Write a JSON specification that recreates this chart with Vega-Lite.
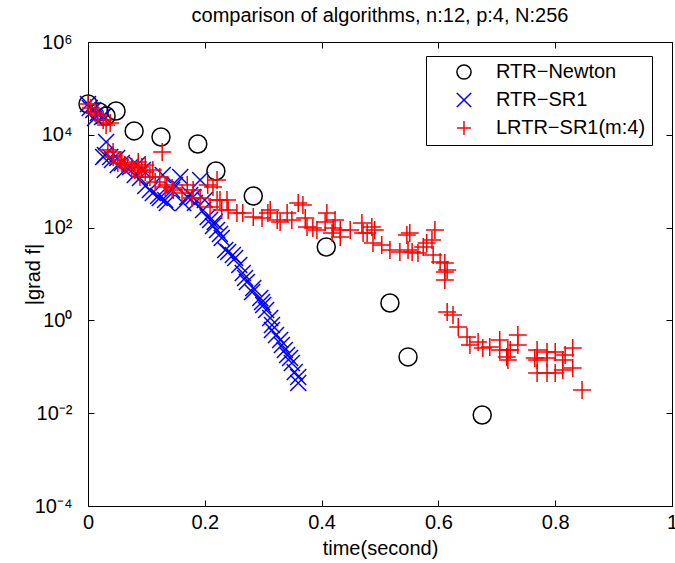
{
  "$schema": "https://vega.github.io/schema/vega-lite/v6.json",
  "width": 584,
  "height": 464,
  "autosize": {"type": "none"},
  "padding": {"left": 88, "top": 42, "right": 3, "bottom": 57},
  "background": "white",
  "title": {"text": "comparison of algorithms, n:12, p:4, N:256", "fontSize": 20, "fontWeight": "normal", "font": "Liberation Sans", "color": "black", "offset": 6, "anchor": "middle"},
  "datasets": {
    "newton": [
      {"t": 0, "g": 46100}, {"t": 0.019, "g": 31000}, {"t": 0.031, "g": 25400}, {"t": 0.048, "g": 32600},
      {"t": 0.079, "g": 12100}, {"t": 0.125, "g": 8970}, {"t": 0.188, "g": 6340}, {"t": 0.219, "g": 1660},
      {"t": 0.283, "g": 480}, {"t": 0.408, "g": 38.2}, {"t": 0.517, "g": 2.37}, {"t": 0.548, "g": 0.163},
      {"t": 0.675, "g": 0.00914}
    ],
    "sr1": [
      {"t": 0, "g": 46100}, {"t": 0.003, "g": 37800}, {"t": 0.009, "g": 34200}, {"t": 0.012, "g": 23000},
      {"t": 0.017, "g": 29500}, {"t": 0.024, "g": 24200}, {"t": 0.027, "g": 25400}, {"t": 0.031, "g": 7000},
      {"t": 0.026, "g": 3320}, {"t": 0.029, "g": 3670}, {"t": 0.038, "g": 3320}, {"t": 0.041, "g": 2860},
      {"t": 0.05, "g": 3160}, {"t": 0.051, "g": 2230}, {"t": 0.058, "g": 2470}, {"t": 0.063, "g": 1740},
      {"t": 0.072, "g": 2020}, {"t": 0.08, "g": 1360}, {"t": 0.084, "g": 2230}, {"t": 0.089, "g": 1170},
      {"t": 0.094, "g": 1740}, {"t": 0.098, "g": 788}, {"t": 0.106, "g": 646}, {"t": 0.111, "g": 557},
      {"t": 0.12, "g": 480}, {"t": 0.123, "g": 435}, {"t": 0.128, "g": 1360}, {"t": 0.132, "g": 394},
      {"t": 0.135, "g": 339}, {"t": 0.144, "g": 646}, {"t": 0.149, "g": 828}, {"t": 0.158, "g": 1230},
      {"t": 0.163, "g": 339}, {"t": 0.17, "g": 456}, {"t": 0.175, "g": 504}, {"t": 0.18, "g": 456},
      {"t": 0.183, "g": 339}, {"t": 0.192, "g": 1060}, {"t": 0.197, "g": 239}, {"t": 0.2, "g": 394},
      {"t": 0.205, "g": 169}, {"t": 0.209, "g": 146}, {"t": 0.214, "g": 108}, {"t": 0.217, "g": 132},
      {"t": 0.221, "g": 88.7}, {"t": 0.226, "g": 72.8}, {"t": 0.229, "g": 59.7}, {"t": 0.235, "g": 32.9},
      {"t": 0.24, "g": 29.8}, {"t": 0.248, "g": 25.6}, {"t": 0.252, "g": 22.1}, {"t": 0.259, "g": 15.6},
      {"t": 0.265, "g": 10.5}, {"t": 0.269, "g": 8.2}, {"t": 0.272, "g": 6.71}, {"t": 0.283, "g": 5.0},
      {"t": 0.281, "g": 4.09}, {"t": 0.295, "g": 3.04}, {"t": 0.298, "g": 2.49}, {"t": 0.3, "g": 2.15},
      {"t": 0.305, "g": 1.67}, {"t": 0.312, "g": 1.13}, {"t": 0.315, "g": 0.796}, {"t": 0.315, "g": 0.621},
      {"t": 0.322, "g": 0.484}, {"t": 0.329, "g": 0.378}, {"t": 0.332, "g": 0.295}, {"t": 0.337, "g": 0.23},
      {"t": 0.341, "g": 0.179}, {"t": 0.346, "g": 0.155}, {"t": 0.349, "g": 0.121}, {"t": 0.354, "g": 0.0773},
      {"t": 0.36, "g": 0.0603}, {"t": 0.36, "g": 0.0448}
    ],
    "lrtr": [
      {"t": 0, "g": 46100}, {"t": 0.005, "g": 37800}, {"t": 0.012, "g": 29500}, {"t": 0.017, "g": 26700},
      {"t": 0.026, "g": 20800}, {"t": 0.031, "g": 16300}, {"t": 0.038, "g": 17900}, {"t": 0.034, "g": 4700},
      {"t": 0.043, "g": 4260}, {"t": 0.043, "g": 3320}, {"t": 0.051, "g": 2470}, {"t": 0.055, "g": 2860},
      {"t": 0.058, "g": 2470}, {"t": 0.063, "g": 2230}, {"t": 0.068, "g": 2230}, {"t": 0.075, "g": 2020},
      {"t": 0.08, "g": 1740}, {"t": 0.086, "g": 2590}, {"t": 0.086, "g": 1920}, {"t": 0.092, "g": 2020},
      {"t": 0.098, "g": 2230}, {"t": 0.098, "g": 1580}, {"t": 0.089, "g": 1230}, {"t": 0.106, "g": 1230},
      {"t": 0.111, "g": 1740}, {"t": 0.115, "g": 962}, {"t": 0.123, "g": 1230}, {"t": 0.127, "g": 4260},
      {"t": 0.132, "g": 750}, {"t": 0.135, "g": 828}, {"t": 0.144, "g": 713}, {"t": 0.146, "g": 646},
      {"t": 0.161, "g": 557}, {"t": 0.17, "g": 828}, {"t": 0.178, "g": 435}, {"t": 0.18, "g": 646},
      {"t": 0.192, "g": 435}, {"t": 0.205, "g": 828}, {"t": 0.209, "g": 278}, {"t": 0.214, "g": 750},
      {"t": 0.221, "g": 1060}, {"t": 0.221, "g": 394}, {"t": 0.226, "g": 394}, {"t": 0.229, "g": 239},
      {"t": 0.238, "g": 394}, {"t": 0.24, "g": 239}, {"t": 0.255, "g": 207}, {"t": 0.265, "g": 207},
      {"t": 0.283, "g": 169}, {"t": 0.298, "g": 161}, {"t": 0.308, "g": 207}, {"t": 0.312, "g": 239},
      {"t": 0.324, "g": 146}, {"t": 0.329, "g": 132}, {"t": 0.341, "g": 207}, {"t": 0.349, "g": 146},
      {"t": 0.36, "g": 339}, {"t": 0.368, "g": 307}, {"t": 0.372, "g": 161}, {"t": 0.375, "g": 103},
      {"t": 0.385, "g": 97.9}, {"t": 0.392, "g": 88.7}, {"t": 0.406, "g": 132}, {"t": 0.409, "g": 207},
      {"t": 0.418, "g": 76.6}, {"t": 0.423, "g": 146}, {"t": 0.42, "g": 97.9}, {"t": 0.432, "g": 62.7},
      {"t": 0.432, "g": 88.7}, {"t": 0.449, "g": 88.7}, {"t": 0.469, "g": 126}, {"t": 0.471, "g": 76.6},
      {"t": 0.478, "g": 76.6}, {"t": 0.486, "g": 103}, {"t": 0.488, "g": 46.6}, {"t": 0.491, "g": 88.7},
      {"t": 0.503, "g": 42.2}, {"t": 0.517, "g": 32.9}, {"t": 0.534, "g": 29.8}, {"t": 0.546, "g": 69.2},
      {"t": 0.548, "g": 32.9}, {"t": 0.551, "g": 76.6}, {"t": 0.555, "g": 29.8}, {"t": 0.565, "g": 28.4},
      {"t": 0.574, "g": 38.2}, {"t": 0.58, "g": 46.6}, {"t": 0.589, "g": 54.1}, {"t": 0.591, "g": 25.6},
      {"t": 0.594, "g": 88.7}, {"t": 0.603, "g": 18.2}, {"t": 0.611, "g": 17.3}, {"t": 0.611, "g": 11.0},
      {"t": 0.615, "g": 12.2}, {"t": 0.611, "g": 7.41}, {"t": 0.615, "g": 1.52}, {"t": 0.625, "g": 1.31},
      {"t": 0.634, "g": 0.721}, {"t": 0.649, "g": 0.439}, {"t": 0.654, "g": 0.295}, {"t": 0.668, "g": 0.342},
      {"t": 0.676, "g": 0.254}, {"t": 0.688, "g": 0.267}, {"t": 0.705, "g": 0.378}, {"t": 0.705, "g": 0.23},
      {"t": 0.717, "g": 0.163}, {"t": 0.719, "g": 0.23}, {"t": 0.719, "g": 0.14}, {"t": 0.723, "g": 0.23},
      {"t": 0.736, "g": 0.484}, {"t": 0.736, "g": 0.295}, {"t": 0.765, "g": 0.155}, {"t": 0.769, "g": 0.23},
      {"t": 0.769, "g": 0.14}, {"t": 0.769, "g": 0.0735}, {"t": 0.786, "g": 0.208}, {"t": 0.786, "g": 0.155},
      {"t": 0.786, "g": 0.0735}, {"t": 0.8, "g": 0.208}, {"t": 0.8, "g": 0.0735}, {"t": 0.813, "g": 0.14},
      {"t": 0.813, "g": 0.0853}, {"t": 0.817, "g": 0.179}, {"t": 0.83, "g": 0.254}, {"t": 0.83, "g": 0.0942},
      {"t": 0.846, "g": 0.0316}
    ]
  },
  "layer": [
    {
      "data": {"name": "newton"},
      "mark": {"type": "point", "filled": false, "opacity": 1, "stroke": "black", "strokeWidth": 1.5, "size": 324, "shape": "circle"},
      "encoding": {
        "x": {"field": "t", "type": "quantitative", "scale": {"domain": [0, 1], "nice": false, "zero": false},
          "axis": {"orient": "bottom", "values": [0, 0.2, 0.4, 0.6, 0.8, 1], "format": "~g", "labelFlush": false, "labelOverlap": false, "labelPadding": 12, "title": "time(second)", "titleX": 292, "titleY": 42, "titleBaseline": "middle", "titleAlign": "center"}},
        "y": {"field": "g", "type": "quantitative", "scale": {"type": "log", "domain": [0.0001, 1000000], "nice": false},
          "axis": {"orient": "left", "values": [0.0001, 0.01, 1, 100, 10000, 1000000], "labelFlush": false, "labelOverlap": false, "labelPadding": 22,
            "labelExpr": "datum.value > 5e5 ? '10⁶' : datum.value > 5e3 ? '10⁴' : datum.value > 50 ? '10²' : datum.value > 0.5 ? '10⁰' : datum.value > 0.005 ? '10⁻²' : '10⁻⁴'",
            "title": "|grad f|", "titleX": -55, "titleY": 232, "titleAngle": -90, "titleBaseline": "middle", "titleAlign": "center"}}
      }
    },
    {
      "data": {"name": "sr1"},
      "mark": {"type": "point", "filled": false, "opacity": 1, "stroke": "#0000ff", "strokeWidth": 1.5, "size": 256, "shape": "M-1,-1L1,1M-1,1L1,-1"},
      "encoding": {
        "x": {"field": "t", "type": "quantitative", "axis": {"orient": "top", "values": [0, 0.2, 0.4, 0.6, 0.8, 1], "labels": false, "title": null}},
        "y": {"field": "g", "type": "quantitative", "axis": {"orient": "right", "values": [0.0001, 0.01, 1, 100, 10000, 1000000], "labels": false, "title": null}}
      }
    },
    {
      "data": {"name": "lrtr"},
      "mark": {"type": "point", "filled": false, "opacity": 1, "stroke": "#ff0000", "strokeWidth": 1.5, "size": 324, "shape": "M-1,0L1,0M0,-1L0,1"},
      "encoding": {
        "x": {"field": "t", "type": "quantitative", "axis": null},
        "y": {"field": "g", "type": "quantitative", "axis": null}
      }
    },
    {
      "data": {"values": [
        {"algorithm": "RTR−Newton"}, {"algorithm": "RTR−SR1"}, {"algorithm": "LRTR−SR1(m:4)"}
      ]},
      "mark": {"type": "point", "opacity": 0},
      "encoding": {
        "color": {"field": "algorithm", "type": "nominal", "scale": {"domain": ["RTR−Newton", "RTR−SR1", "LRTR−SR1(m:4)"], "range": ["black", "#0000ff", "#ff0000"]}, "legend": {"title": null}},
        "shape": {"field": "algorithm", "type": "nominal", "scale": {"domain": ["RTR−Newton", "RTR−SR1", "LRTR−SR1(m:4)"], "range": ["circle", "M-1,-1L1,1M-1,1L1,-1", "M-1,0L1,0M0,-1L0,1"]}, "legend": {"title": null}}
      }
    }
  ],
  "resolve": {"axis": {"x": "independent", "y": "independent"}},
  "config": {
    "view": {"stroke": "black", "strokeWidth": 1},
    "axis": {"domainColor": "black", "tickColor": "black", "labelColor": "black", "titleColor": "black", "labelFont": "Liberation Sans", "titleFont": "Liberation Sans", "labelFontSize": 20, "titleFontSize": 20, "titleFontWeight": "normal", "grid": false, "tickSize": -6, "domain": true},
    "legend": {"orient": "none", "legendX": 338, "legendY": 14, "strokeColor": "black", "fillColor": "white", "padding": 6, "labelFont": "Liberation Sans", "labelFontSize": 20, "labelColor": "black", "labelLimit": 400, "rowPadding": 6, "symbolSize": 200, "symbolStrokeWidth": 1.5, "symbolFillColor": "transparent", "symbolOffset": 22, "labelOffset": 22, "symbolOpacity": 1}
  }
}
